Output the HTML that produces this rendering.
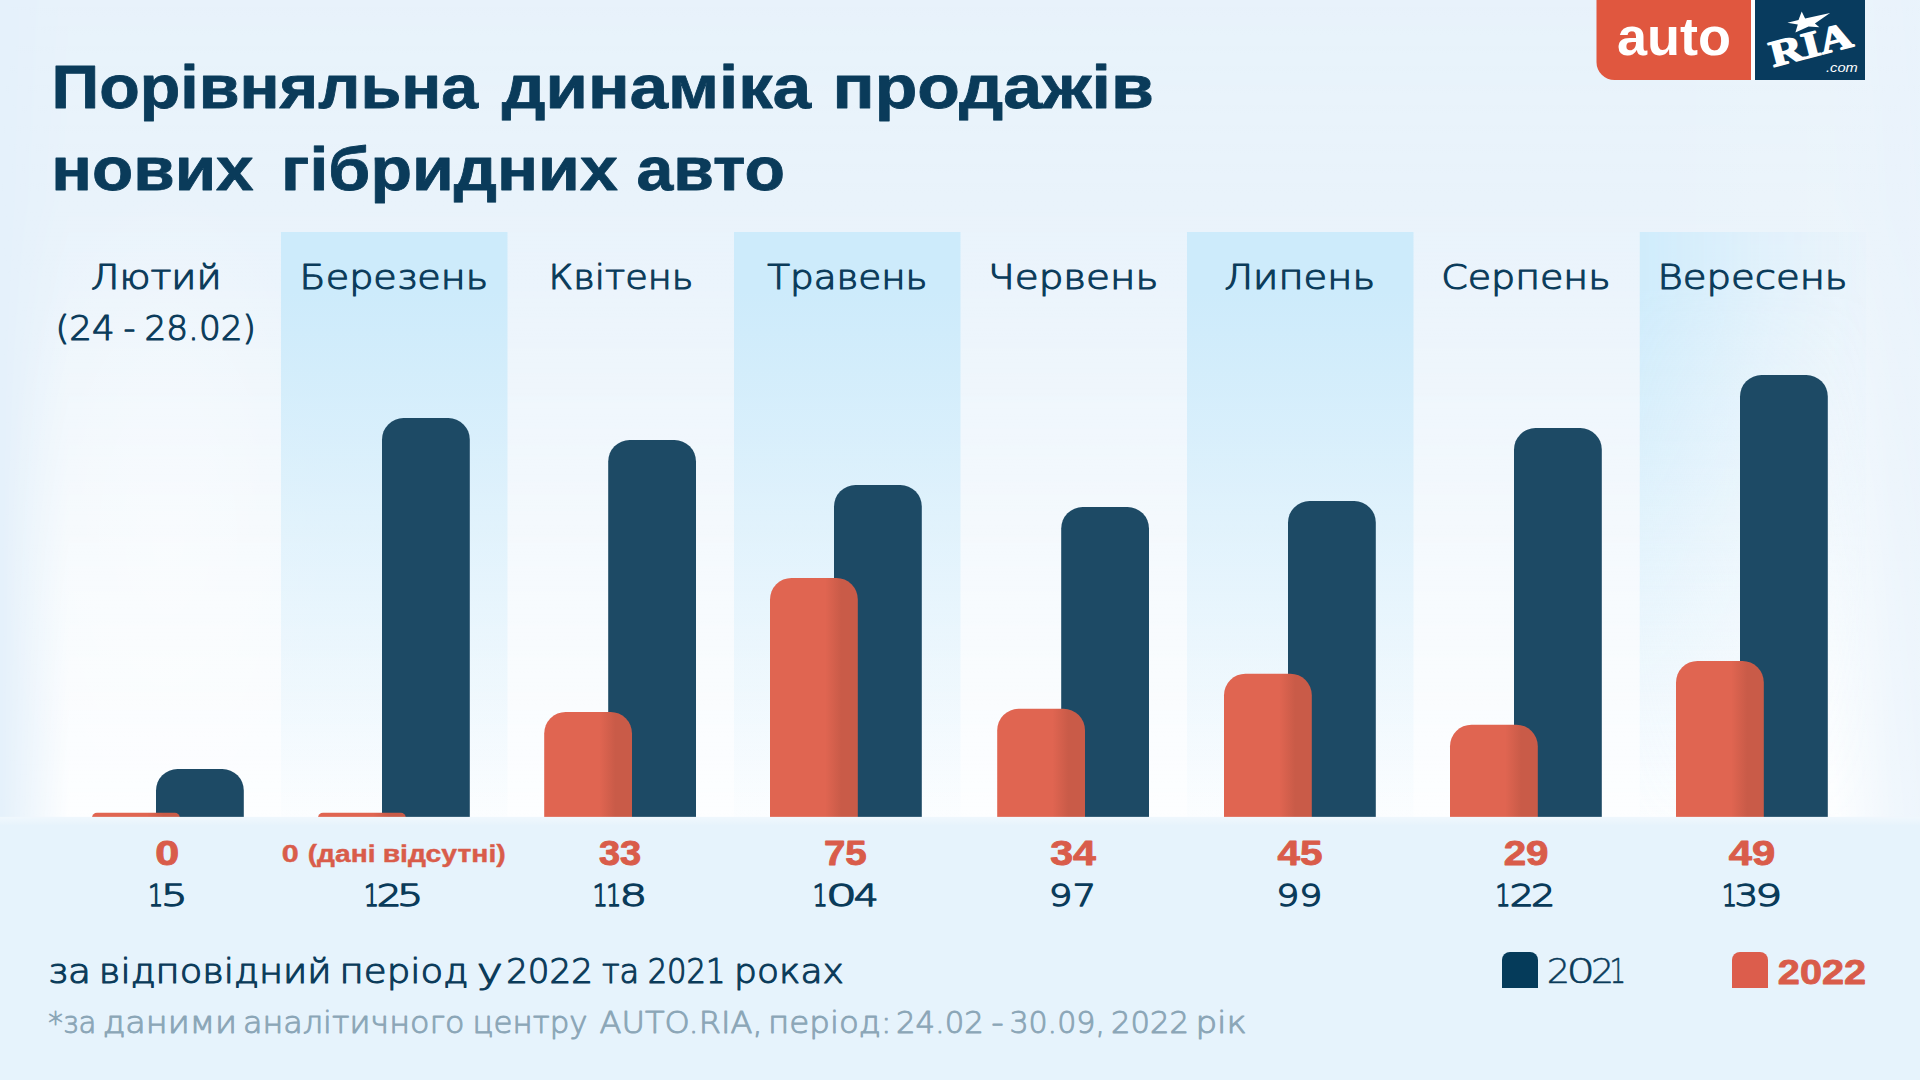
<!DOCTYPE html>
<html lang="uk">
<head>
<meta charset="utf-8">
<title>Порівняльна динаміка продажів нових гібридних авто</title>
<style>
html,body{margin:0;padding:0;background:#e5f1fb;}
body{width:1920px;height:1080px;overflow:hidden;position:relative;}
svg{position:absolute;left:0;top:0;display:block;}
text{font-family:"Liberation Sans","DejaVu Sans",sans-serif;}
.b{font-weight:700;}
.lt{font-family:"DejaVu Sans","Liberation Sans",sans-serif;font-weight:200;}
.i{font-style:italic;}
.navy{fill:#0a3b5a;}
.red{fill:#d95c4a;}
.grey{fill:#8ba6b7;}
.white{fill:#ffffff;}
</style>
</head>
<body>
<svg width="1920" height="1080" viewBox="0 0 1920 1080">
<defs>
<linearGradient id="vwhite" gradientUnits="userSpaceOnUse" x1="0" y1="0" x2="0" y2="817">
<stop offset="0" stop-color="#ffffff" stop-opacity="0.13"/>
<stop offset="0.245" stop-color="#ffffff" stop-opacity="0.17"/>
<stop offset="0.367" stop-color="#ffffff" stop-opacity="0.27"/>
<stop offset="0.734" stop-color="#ffffff" stop-opacity="0.68"/>
<stop offset="1" stop-color="#ffffff" stop-opacity="0.92"/>
</linearGradient>
<radialGradient id="glow0" cx="0.5" cy="0.5" r="0.5">
<stop offset="0" stop-color="#ffffff" stop-opacity="0.38"/>
<stop offset="0.5" stop-color="#ffffff" stop-opacity="0.22"/>
<stop offset="1" stop-color="#ffffff" stop-opacity="0"/>
</radialGradient>
<linearGradient id="hmask" gradientUnits="userSpaceOnUse" x1="0" y1="0" x2="1920" y2="0">
<stop offset="0" stop-color="#fff" stop-opacity="0"/>
<stop offset="0.036" stop-color="#fff" stop-opacity="1"/>
<stop offset="0.955" stop-color="#fff" stop-opacity="1"/>
<stop offset="0.985" stop-color="#fff" stop-opacity="0.4"/>
<stop offset="1" stop-color="#fff" stop-opacity="0.25"/>
</linearGradient>
<mask id="mH" maskUnits="userSpaceOnUse" x="0" y="0" width="1920" height="1080">
<rect x="0" y="0" width="1920" height="1080" fill="url(#hmask)"/>
</mask>
<linearGradient id="stripe" gradientUnits="userSpaceOnUse" x1="0" y1="232" x2="0" y2="817">
<stop offset="0" stop-color="#cdebfb" stop-opacity="1"/>
<stop offset="0.1" stop-color="#cdebfb" stop-opacity="1"/>
<stop offset="0.5" stop-color="#cfecfb" stop-opacity="0.52"/>
<stop offset="1" stop-color="#d0ecfc" stop-opacity="0.04"/>
</linearGradient>
<linearGradient id="fadeR" gradientUnits="userSpaceOnUse" x1="1639.5" y1="0" x2="1866" y2="0">
<stop offset="0" stop-color="#fff" stop-opacity="0.92"/>
<stop offset="0.6" stop-color="#fff" stop-opacity="0.3"/>
<stop offset="1" stop-color="#fff" stop-opacity="0.05"/>
</linearGradient>
<mask id="mLast" maskUnits="userSpaceOnUse" x="1600" y="200" width="320" height="700">
<rect x="1639.5" y="200" width="226.5" height="700" fill="url(#fadeR)"/>
</mask>
<linearGradient id="bandtop" x1="0" y1="0" x2="0" y2="1">
<stop offset="0" stop-color="#ffffff" stop-opacity="0.4"/>
<stop offset="1" stop-color="#ffffff" stop-opacity="0"/>
</linearGradient>
<linearGradient id="rshine" x1="0" y1="0" x2="1" y2="0">
<stop offset="0" stop-color="#ffffff" stop-opacity="0"/>
<stop offset="1" stop-color="#ffffff" stop-opacity="0.18"/>
</linearGradient>
<linearGradient id="redg" x1="0" y1="0" x2="1" y2="0">
<stop offset="0" stop-color="#e06551"/>
<stop offset="0.63" stop-color="#e06551"/>
<stop offset="0.81" stop-color="#c95b48"/>
<stop offset="1" stop-color="#c95b48"/>
</linearGradient>
</defs>
<rect x="0" y="0" width="1920" height="1080" fill="#e5f1fb"/>
<rect x="1640" y="0" width="280" height="820" fill="url(#rshine)"/>
<rect x="0" y="0" width="1920" height="818" fill="url(#vwhite)" mask="url(#mH)"/>
<ellipse cx="168" cy="540" rx="170" ry="360" fill="url(#glow0)"/>
<rect x="281.0" y="232" width="226.5" height="586" fill="url(#stripe)"/>
<rect x="734.0" y="232" width="226.5" height="586" fill="url(#stripe)"/>
<rect x="1187.0" y="232" width="226.5" height="586" fill="url(#stripe)"/>
<rect x="1639.5" y="232" width="226.5" height="586" fill="url(#stripe)" mask="url(#mLast)"/>
<rect x="156.00" y="769.00" width="87.80" height="77.90" rx="21.5" ry="21.5" fill="#1d4a65"/>
<rect x="92.00" y="812.80" width="87.80" height="30" rx="5" ry="5" fill="url(#redg)"/>
<rect x="382.00" y="418.10" width="87.80" height="428.80" rx="21.5" ry="21.5" fill="#1d4a65"/>
<rect x="318.00" y="812.80" width="87.80" height="30" rx="5" ry="5" fill="url(#redg)"/>
<rect x="608.20" y="440.00" width="87.80" height="406.90" rx="21.5" ry="21.5" fill="#1d4a65"/>
<rect x="544.20" y="711.93" width="87.80" height="134.97" rx="21.5" ry="21.5" fill="url(#redg)"/>
<rect x="834.00" y="485.00" width="87.80" height="361.90" rx="21.5" ry="21.5" fill="#1d4a65"/>
<rect x="770.00" y="577.95" width="87.80" height="268.95" rx="21.5" ry="21.5" fill="url(#redg)"/>
<rect x="1061.20" y="507.00" width="87.80" height="339.90" rx="21.5" ry="21.5" fill="#1d4a65"/>
<rect x="997.20" y="708.74" width="87.80" height="138.16" rx="21.5" ry="21.5" fill="url(#redg)"/>
<rect x="1288.00" y="501.10" width="87.80" height="345.80" rx="21.5" ry="21.5" fill="#1d4a65"/>
<rect x="1224.00" y="673.65" width="87.80" height="173.25" rx="21.5" ry="21.5" fill="url(#redg)"/>
<rect x="1514.00" y="428.10" width="87.80" height="418.80" rx="21.5" ry="21.5" fill="#1d4a65"/>
<rect x="1450.00" y="724.69" width="87.80" height="122.21" rx="21.5" ry="21.5" fill="url(#redg)"/>
<rect x="1740.00" y="375.00" width="87.80" height="471.90" rx="21.5" ry="21.5" fill="#1d4a65"/>
<rect x="1676.00" y="660.89" width="87.80" height="186.01" rx="21.5" ry="21.5" fill="url(#redg)"/>
<rect x="0" y="816.9" width="1920" height="263.1" fill="#e6f3fc"/>
<rect x="0" y="816.9" width="1920" height="9" fill="url(#bandtop)"/>
<path d="M1502 988V960a8 8 0 0 1 8-8h20a8 8 0 0 1 8 8v28z" fill="#053b5a"/>
<path d="M1732 988V960a8 8 0 0 1 8-8h20a8 8 0 0 1 8 8v28z" fill="#dc5d4c"/>
<path d="M1596.5 0H1751V80H1614.5a18 18 0 0 1-18-18z" fill="#e0573f"/>
<rect x="1751" y="0" width="4" height="80" fill="#ffffff"/>
<rect x="1755" y="0" width="110" height="80" fill="#083b5e"/>
<g transform="translate(1773.2 67) rotate(-14.6)"><text x="0" y="0" font-size="37" style="font-family:'Liberation Serif','DejaVu Serif',serif;font-weight:700" fill="#ffffff" stroke="#ffffff" stroke-width="1.5" stroke-linejoin="round" textLength="84" lengthAdjust="spacingAndGlyphs">RIA</text></g>
<path d="M1801.7 11.6 L1805.1 18.6 L1830.1 13 L1814.9 23.4 L1819.4 27.2 L1808.6 26.5 L1795.4 32.4 L1797.8 24.4 L1787.4 22.7 L1798.5 19.9 Z" fill="#ffffff"/>
<text y="107.50" font-size="61" class="navy b" stroke="#0a3b5a" stroke-width="0.8" stroke-linejoin="round"><tspan x="51.62" textLength="426.62" lengthAdjust="spacingAndGlyphs">Порівняльна</tspan> <tspan x="501.85" textLength="309.25" lengthAdjust="spacingAndGlyphs">динаміка</tspan> <tspan x="832.51" textLength="321.29" lengthAdjust="spacingAndGlyphs">продажів</tspan></text>
<text y="189.50" font-size="61" class="navy b" stroke="#0a3b5a" stroke-width="0.8" stroke-linejoin="round"><tspan x="51.27" textLength="202.34" lengthAdjust="spacingAndGlyphs">нових</tspan> <tspan x="281.14" textLength="336.66" lengthAdjust="spacingAndGlyphs">гібридних</tspan> <tspan x="636.41" textLength="148.65" lengthAdjust="spacingAndGlyphs">авто</tspan></text>
<text x="90.70" y="288.80" font-size="32.9" class="navy lt" textLength="130.95" lengthAdjust="spacingAndGlyphs" stroke="#0a3b5a" stroke-width="1.1" stroke-linejoin="round">Лютий</text>
<text x="299.60" y="288.80" font-size="32.9" class="navy lt" textLength="188.49" lengthAdjust="spacingAndGlyphs" stroke="#0a3b5a" stroke-width="1.1" stroke-linejoin="round">Березень</text>
<text x="548.58" y="288.80" font-size="32.9" class="navy lt" textLength="144.79" lengthAdjust="spacingAndGlyphs" stroke="#0a3b5a" stroke-width="1.1" stroke-linejoin="round">Квітень</text>
<text x="767.25" y="288.80" font-size="32.9" class="navy lt" textLength="160.30" lengthAdjust="spacingAndGlyphs" stroke="#0a3b5a" stroke-width="1.1" stroke-linejoin="round">Травень</text>
<text x="988.10" y="288.80" font-size="32.9" class="navy lt" textLength="170.26" lengthAdjust="spacingAndGlyphs" stroke="#0a3b5a" stroke-width="1.1" stroke-linejoin="round">Червень</text>
<text x="1224.21" y="288.80" font-size="32.9" class="navy lt" textLength="150.86" lengthAdjust="spacingAndGlyphs" stroke="#0a3b5a" stroke-width="1.1" stroke-linejoin="round">Липень</text>
<text x="1441.17" y="288.80" font-size="32.9" class="navy lt" textLength="169.41" lengthAdjust="spacingAndGlyphs" stroke="#0a3b5a" stroke-width="1.1" stroke-linejoin="round">Серпень</text>
<text x="1657.60" y="288.80" font-size="32.9" class="navy lt" textLength="189.99" lengthAdjust="spacingAndGlyphs" stroke="#0a3b5a" stroke-width="1.1" stroke-linejoin="round">Вересень</text>
<text y="339.50" font-size="32.9" class="navy lt" stroke="#0a3b5a" stroke-width="1.1" stroke-linejoin="round"><tspan x="55.45" textLength="59.29" lengthAdjust="spacingAndGlyphs">(24</tspan> <tspan x="123.55" textLength="11.90" lengthAdjust="spacingAndGlyphs">-</tspan> <tspan x="144.42" textLength="111.46" lengthAdjust="spacingAndGlyphs">28.02)</tspan></text>
<text x="155.15" y="865.20" font-size="34.3" class="red b" textLength="23.95" lengthAdjust="spacingAndGlyphs" stroke="#d95c4a" stroke-width="0.9" stroke-linejoin="round">0</text>
<text y="905.60" font-size="31.0" class="navy lt" stroke="#0a3b5a" stroke-width="1.35" stroke-linejoin="round"><tspan x="148.04" textLength="15.38" lengthAdjust="spacingAndGlyphs">1</tspan><tspan x="161.04" textLength="26.64" lengthAdjust="spacingAndGlyphs">5</tspan></text>
<text y="861.50" font-size="23.5" class="red b" stroke="#d95c4a" stroke-width="0.4" stroke-linejoin="round"><tspan x="281.65" textLength="16.98" lengthAdjust="spacingAndGlyphs">0</tspan> <tspan x="307.71" textLength="67.87" lengthAdjust="spacingAndGlyphs">(дані</tspan> <tspan x="382.71" textLength="123.08" lengthAdjust="spacingAndGlyphs">відсутні)</tspan></text>
<text y="905.60" font-size="31.0" class="navy lt" stroke="#0a3b5a" stroke-width="1.35" stroke-linejoin="round"><tspan x="363.64" textLength="15.38" lengthAdjust="spacingAndGlyphs">1</tspan><tspan x="376.66" textLength="24.87" lengthAdjust="spacingAndGlyphs">2</tspan><tspan x="397.09" textLength="26.34" lengthAdjust="spacingAndGlyphs">5</tspan></text>
<text x="598.99" y="865.20" font-size="34.3" class="red b" textLength="42.28" lengthAdjust="spacingAndGlyphs" stroke="#d95c4a" stroke-width="0.9" stroke-linejoin="round">33</text>
<text y="905.60" font-size="31.0" class="navy lt" stroke="#0a3b5a" stroke-width="1.35" stroke-linejoin="round"><tspan x="592.54" textLength="15.38" lengthAdjust="spacingAndGlyphs">1</tspan><tspan x="605.89" textLength="15.38" lengthAdjust="spacingAndGlyphs">1</tspan><tspan x="619.58" textLength="27.67" lengthAdjust="spacingAndGlyphs">8</tspan></text>
<text x="823.96" y="865.20" font-size="34.3" class="red b" textLength="42.81" lengthAdjust="spacingAndGlyphs" stroke="#d95c4a" stroke-width="0.9" stroke-linejoin="round">75</text>
<text y="905.60" font-size="31.0" class="navy lt" stroke="#0a3b5a" stroke-width="1.35" stroke-linejoin="round"><tspan x="812.39" textLength="15.38" lengthAdjust="spacingAndGlyphs">1</tspan><tspan x="825.76" textLength="31.45" lengthAdjust="spacingAndGlyphs">0</tspan><tspan x="853.75" textLength="25.02" lengthAdjust="spacingAndGlyphs">4</tspan></text>
<text x="1050.25" y="865.20" font-size="34.3" class="red b" textLength="45.75" lengthAdjust="spacingAndGlyphs" stroke="#d95c4a" stroke-width="0.9" stroke-linejoin="round">34</text>
<text x="1048.84" y="905.60" font-size="31.0" class="navy lt" textLength="47.40" lengthAdjust="spacingAndGlyphs" stroke="#0a3b5a" stroke-width="1.35" stroke-linejoin="round">97</text>
<text x="1277.50" y="865.20" font-size="34.3" class="red b" textLength="45.01" lengthAdjust="spacingAndGlyphs" stroke="#d95c4a" stroke-width="0.9" stroke-linejoin="round">45</text>
<text x="1276.17" y="905.60" font-size="31.0" class="navy lt" textLength="46.10" lengthAdjust="spacingAndGlyphs" stroke="#0a3b5a" stroke-width="1.35" stroke-linejoin="round">99</text>
<text x="1503.72" y="865.20" font-size="34.3" class="red b" textLength="44.82" lengthAdjust="spacingAndGlyphs" stroke="#d95c4a" stroke-width="0.9" stroke-linejoin="round">29</text>
<text y="905.60" font-size="31.0" class="navy lt" stroke="#0a3b5a" stroke-width="1.35" stroke-linejoin="round"><tspan x="1495.29" textLength="15.38" lengthAdjust="spacingAndGlyphs">1</tspan><tspan x="1509.74" textLength="24.19" lengthAdjust="spacingAndGlyphs">2</tspan><tspan x="1531.02" textLength="24.33" lengthAdjust="spacingAndGlyphs">2</tspan></text>
<text x="1728.75" y="865.20" font-size="34.3" class="red b" textLength="46.52" lengthAdjust="spacingAndGlyphs" stroke="#d95c4a" stroke-width="0.9" stroke-linejoin="round">49</text>
<text y="905.60" font-size="31.0" class="navy lt" stroke="#0a3b5a" stroke-width="1.35" stroke-linejoin="round"><tspan x="1721.84" textLength="15.38" lengthAdjust="spacingAndGlyphs">1</tspan><tspan x="1734.54" textLength="23.70" lengthAdjust="spacingAndGlyphs">3</tspan><tspan x="1755.26" textLength="26.95" lengthAdjust="spacingAndGlyphs">9</tspan></text>
<text y="983.30" font-size="32.9" class="navy lt" stroke="#0a3b5a" stroke-width="1.1" stroke-linejoin="round"><tspan x="47.83" textLength="43.26" lengthAdjust="spacingAndGlyphs">за</tspan> <tspan x="98.89" textLength="232.72" lengthAdjust="spacingAndGlyphs">відповідний</tspan> <tspan x="339.59" textLength="128.76" lengthAdjust="spacingAndGlyphs">період</tspan> <tspan x="476.85" textLength="26.12" lengthAdjust="spacingAndGlyphs">у</tspan> <tspan x="506.15" textLength="86.76" lengthAdjust="spacingAndGlyphs">2022</tspan> <tspan x="601.94" textLength="37.37" lengthAdjust="spacingAndGlyphs">та</tspan> <tspan x="647.66" textLength="77.77" lengthAdjust="spacingAndGlyphs">2021</tspan> <tspan x="734.09" textLength="109.73" lengthAdjust="spacingAndGlyphs">роках</tspan></text>
<text y="1033.00" font-size="30.0" class="grey lt" stroke="#8ba6b7" stroke-width="0.95" stroke-linejoin="round"><tspan x="48.19" textLength="48.26" lengthAdjust="spacingAndGlyphs">*за</tspan> <tspan x="102.67" textLength="134.46" lengthAdjust="spacingAndGlyphs">даними</tspan> <tspan x="242.96" textLength="221.58" lengthAdjust="spacingAndGlyphs">аналітичного</tspan> <tspan x="472.64" textLength="114.91" lengthAdjust="spacingAndGlyphs">центру</tspan> <tspan x="599.49" textLength="163.12" lengthAdjust="spacingAndGlyphs">AUTO.RIA,</tspan> <tspan x="768.06" textLength="123.70" lengthAdjust="spacingAndGlyphs">період:</tspan> <tspan x="895.91" textLength="87.97" lengthAdjust="spacingAndGlyphs">24.02</tspan> <tspan x="991.25" textLength="12.50" lengthAdjust="spacingAndGlyphs">-</tspan> <tspan x="1009.39" textLength="95.58" lengthAdjust="spacingAndGlyphs">30.09,</tspan> <tspan x="1110.91" textLength="78.00" lengthAdjust="spacingAndGlyphs">2022</tspan> <tspan x="1195.43" textLength="51.48" lengthAdjust="spacingAndGlyphs">рік</tspan></text>
<text y="983.40" font-size="33.4" class="navy lt" stroke="#0a3b5a" stroke-width="0.55" stroke-linejoin="round"><tspan x="1546.73" textLength="23.38" lengthAdjust="spacingAndGlyphs">2</tspan><tspan x="1566.20" textLength="29.00" lengthAdjust="spacingAndGlyphs">0</tspan><tspan x="1591.06" textLength="23.10" lengthAdjust="spacingAndGlyphs">2</tspan><tspan x="1609.50" textLength="16.58" lengthAdjust="spacingAndGlyphs">1</tspan></text>
<text x="1777.88" y="983.60" font-size="35.5" class="red b" textLength="88.14" lengthAdjust="spacingAndGlyphs" stroke="#d95c4a" stroke-width="0.9" stroke-linejoin="round">2022</text>
<text x="1616.95" y="54.70" font-size="54" class="white b" textLength="114.11" lengthAdjust="spacingAndGlyphs">auto</text>
<text x="1825.98" y="72.30" font-size="12.5" class="white i" textLength="31.80" lengthAdjust="spacingAndGlyphs">.com</text>
</svg>
</body>
</html>
